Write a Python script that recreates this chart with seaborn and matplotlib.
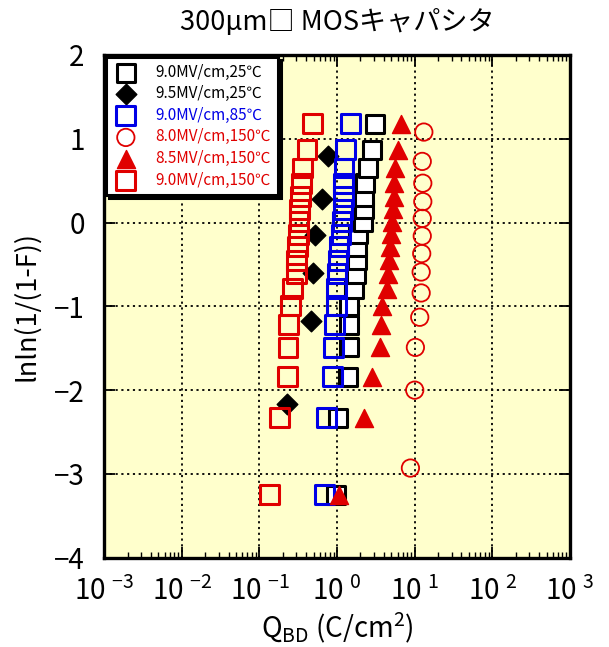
import math
import pandas as pd
import seaborn as sns
import matplotlib.pyplot as plt
from matplotlib.ticker import FixedLocator, LogLocator, FuncFormatter, NullFormatter

# Weibull plotting positions lnln(1/(1-F))
y_n18 = [-3.25, -2.33, -1.84, -1.49, -1.22, -0.99, -0.79, -0.61, -0.45,
         -0.29, -0.14, 0.01, 0.16, 0.31, 0.47, 0.65, 0.87, 1.18]
y_n13 = [-2.93, -2.00, -1.49, -1.13, -0.84, -0.59, -0.37, -0.16, 0.05,
         0.25, 0.47, 0.73, 1.08]
y_n6 = [-2.16, -1.18, -0.60, -0.15, 0.28, 0.79]

# Q_BD values (C/cm2) for each stress condition
qbd_90_25 = [0.97, 1.04, 1.40, 1.41, 1.44, 1.44, 1.64, 1.73, 1.78, 1.79,
             1.85, 2.14, 2.19, 2.24, 2.27, 2.49, 2.82, 3.06]
qbd_95_25 = [0.225, 0.459, 0.487, 0.516, 0.636, 0.76]
qbd_90_85 = [0.695, 0.737, 0.881, 0.907, 0.934, 0.977, 0.982, 1.0, 1.03,
             1.06, 1.12, 1.16, 1.19, 1.22, 1.22, 1.23, 1.29, 1.50]
qbd_80_150 = [8.8, 10.0, 10.2, 11.6, 12.1, 12.1, 12.3, 12.5, 12.5, 12.7,
              12.7, 12.5, 13.1]
qbd_85_150 = [1.05, 2.21, 2.80, 3.62, 3.68, 3.79, 4.40, 4.53, 4.72, 4.87,
              5.01, 5.10, 5.26, 5.37, 5.48, 5.65, 6.10, 6.66]
qbd_90_150 = [0.136, 0.183, 0.232, 0.234, 0.239, 0.253, 0.267, 0.300, 0.303,
              0.309, 0.318, 0.324, 0.331, 0.341, 0.348, 0.359, 0.411, 0.482]

labels = ['9.0MV/cm,25℃', '9.5MV/cm,25℃', '9.0MV/cm,85℃',
          '8.0MV/cm,150℃', '8.5MV/cm,150℃', '9.0MV/cm,150℃']
x_exponents = [-3, -2, -1, 0, 1, 2, 3]
y_ticks = [-4, -3, -2, -1, 0, 1, 2]

RED = '#e00000'
BLUE = '#0000e6'

sns.set_theme(style='ticks')
plt.rcParams['font.family'] = ['Noto Sans CJK JP', 'DejaVu Sans']
plt.rcParams['axes.unicode_minus'] = True
for k in ['text.color', 'axes.labelcolor', 'xtick.color', 'ytick.color']:
    plt.rcParams[k] = 'black'

fig = plt.figure(figsize=(6.09, 6.47), dpi=100)
ax = fig.add_axes([0.171, 0.138, 0.765, 0.777])
ax.set_facecolor('#ffffcc')

# (x, y, marker, size, face, edge, lw)
series = [
    (qbd_90_25, y_n18, 's', 13.5, 'white', 'black', 2.2),
    (qbd_95_25, y_n6, 'D', 10.5, 'black', 'black', 1.0),
    (qbd_90_85, y_n18, 's', 13.5, 'none', BLUE, 2.2),
    (qbd_80_150, y_n13, 'o', 12.5, 'none', RED, 1.3),
    (qbd_85_150, y_n18, '^', 13.0, RED, RED, 1.0),
    (qbd_90_150, y_n18, 's', 13.5, 'none', RED, 2.2),
]
for (xs, ys, mk, ms, fc, ec, lw), lab in zip(series, labels):
    df = pd.DataFrame({'qbd': xs, 'w': ys})
    sns.scatterplot(data=df, x='qbd', y='w', marker=mk, s=ms ** 2,
                    facecolor=fc, edgecolor=ec, linewidth=lw,
                    label=lab, ax=ax, legend=False, zorder=3)

ax.set_xscale('log')
ax.set_xlim(1e-3, 1e3)
ax.set_ylim(-4, 2)
ax.xaxis.set_major_locator(FixedLocator([10.0 ** e for e in x_exponents]))
ax.xaxis.set_major_formatter(FuncFormatter(
    lambda v, p: r'$\mathdefault{10}^{\ \mathdefault{%d}}$' % round(math.log10(v))))
ax.xaxis.set_minor_locator(LogLocator(base=10, subs=range(2, 10), numticks=50))
ax.xaxis.set_minor_formatter(NullFormatter())
ax.yaxis.set_major_locator(FixedLocator(y_ticks))

ax.grid(True, which='major', color='black', linestyle=(0, (1.2, 2.0)), linewidth=1.3)
ax.set_axisbelow(True)
for sp in ax.spines.values():
    sp.set_linewidth(2.4)
    sp.set_color('black')
ax.tick_params(which='both', direction='in', top=True, right=True)
ax.tick_params(which='major', length=8, width=1.3, labelsize=20)
ax.tick_params(which='minor', length=4, width=1.0)
ax.tick_params(axis='x', pad=14)
ax.tick_params(axis='y', pad=14)

ax.set_title('300μm□ MOSキャパシタ', fontsize=19.5, pad=18)
ax.set_xlabel(r'Q$_{\mathdefault{BD}}$ (C/cm$^{\mathdefault{2}}$)', fontsize=20, labelpad=3)
ax.set_ylabel('lnln(1/(1-F))', fontsize=19.5, labelpad=10)

leg = ax.legend(loc='upper left', borderaxespad=0.12, fontsize=11, frameon=True,
                fancybox=False, framealpha=1, edgecolor='black',
                shadow={'color': 'black', 'alpha': 1}, labelspacing=0.3,
                handletextpad=1.1, borderpad=0.45, handlelength=1.7)
leg.get_frame().set_linewidth(2.2)
for txt, col in zip(leg.get_texts(), ['black', 'black', BLUE, RED, RED, RED]):
    txt.set_color(col)

fig.savefig('out.png', dpi=100)
